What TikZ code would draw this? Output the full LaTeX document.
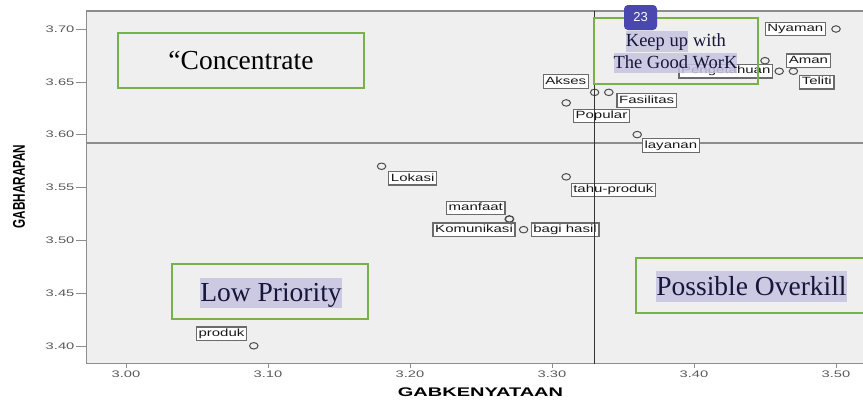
\documentclass[tikz,border=0pt]{standalone}
\usepackage{fontspec}
\setmainfont{Liberation Serif}
\setsansfont{Liberation Sans}
\usetikzlibrary{positioning,shapes.geometric}
\tikzset{% default arrow tips
    >=latex
}
\definecolor{plotbg}{HTML}{EFEFEF}
\definecolor{framegray}{HTML}{8C8C8C}
\definecolor{tickgray}{HTML}{5A5A5A}
\definecolor{boxgreen}{HTML}{78B04A}
\definecolor{hilite}{HTML}{C6C4E2}
\definecolor{badgeblue}{HTML}{4A47AE}
\definecolor{inkblue}{HTML}{16163A}
\tikzset{
    site/.style={ellipse, draw=black!70, line width=1pt, minimum width=8.5pt, minimum height=6.5pt, inner sep=0pt},
    namebox/.style={draw=black!58, line width=1.2pt, fill=white, inner xsep=1.5pt, inner ysep=2pt, text height=7.5pt, text depth=2pt, xscale=1.43, text=black!90, font=\sffamily\fontsize{10.5}{12}\selectfont},
    ticklbl/.style={text=tickgray, inner sep=1pt, xscale=1.55, font=\sffamily\fontsize{9.5}{11}\selectfont},
    axtitle/.style={inner sep=0pt, font=\sffamily\bfseries\fontsize{12.5}{14}\selectfont},
    quadbox/.style={draw=boxgreen, line width=1.6pt},
    bigfont/.style={font=\fontsize{27.5}{31}\selectfont, text height=23pt, text depth=5.5pt},
    keepfont/.style={font=\fontsize{18.5}{21}\selectfont, text height=14.5pt, text depth=4pt},
    hl/.style={fill=hilite, fill opacity=0.85, text opacity=1, text=inkblue, inner xsep=0pt, inner ysep=1pt},
    badge/.style={fill=badgeblue, rounded corners=4pt, text=white, minimum width=33pt, minimum height=25pt, inner sep=0pt, font=\sffamily\fontsize{13}{15}\selectfont}
}

\begin{document}
\begin{tikzpicture}[x=1pt,y=-1pt]
    \newcommand{\xlo}{2.972}
    \newcommand{\xhi}{3.53}
    \newcommand{\ylo}{3.383}
    \newcommand{\yhi}{3.717}
    \newcommand{\xcut}{3.33}
    \newcommand{\ycut}{3.592}

    \useasboundingbox (0,0) rectangle (863,400);

    % scatter, in data units
    \begin{scope}[shift={(-4134,3936.2)}, x=1420pt, y=1056pt]
        % panel
        \fill[plotbg] (\xlo,\ylo) rectangle (\xhi,\yhi);
        \draw[framegray, line width=1.4pt] (\xhi,\yhi) -- (\xlo,\yhi) -- (\xlo,\ylo) -- (\xhi,\ylo);

        % y ticks
        \draw[framegray] (\xlo,3.70) -- ++(-10pt,0) node[left, ticklbl] {3.70};
        \draw[framegray] (\xlo,3.65) -- ++(-10pt,0) node[left, ticklbl] {3.65};
        \draw[framegray] (\xlo,3.60) -- ++(-10pt,0) node[left, ticklbl] {3.60};
        \draw[framegray] (\xlo,3.55) -- ++(-10pt,0) node[left, ticklbl] {3.55};
        \draw[framegray] (\xlo,3.50) -- ++(-10pt,0) node[left, ticklbl] {3.50};
        \draw[framegray] (\xlo,3.45) -- ++(-10pt,0) node[left, ticklbl] {3.45};
        \draw[framegray] (\xlo,3.40) -- ++(-10pt,0) node[left, ticklbl] {3.40};

        % x ticks
        \draw[framegray] (3.00,\ylo) -- ++(0,-4pt) node[below=1.5pt, ticklbl] {3.00};
        \draw[framegray] (3.10,\ylo) -- ++(0,-4pt) node[below=1.5pt, ticklbl] {3.10};
        \draw[framegray] (3.20,\ylo) -- ++(0,-4pt) node[below=1.5pt, ticklbl] {3.20};
        \draw[framegray] (3.30,\ylo) -- ++(0,-4pt) node[below=1.5pt, ticklbl] {3.30};
        \draw[framegray] (3.40,\ylo) -- ++(0,-4pt) node[below=1.5pt, ticklbl] {3.40};
        \draw[framegray] (3.50,\ylo) -- ++(0,-4pt) node[below=1.5pt, ticklbl] {3.50};

        % mean line (horizontal)
        \draw[framegray, line width=1.2pt] (\xlo,\ycut) -- (\xhi,\ycut);

        % sites
        \node[site] (pnyaman) at (3.50,3.70) {};
        \node[site] (paman) at (3.45,3.67) {};
        \node[site] (ppeng) at (3.46,3.66) {};
        \node[site] (pteliti) at (3.47,3.66) {};
        \node[site] (pakses) at (3.33,3.64) {};
        \node[site] (pfasil) at (3.34,3.64) {};
        \node[site] (ppopular) at (3.31,3.63) {};
        \node[site] (playanan) at (3.36,3.60) {};
        \node[site] (plokasi) at (3.18,3.57) {};
        \node[site] (ptahu) at (3.31,3.56) {};
        \node[site, line width=1.4pt] (pmanfaat) at (3.27,3.52) {};
        \node[site] (pbagi) at (3.28,3.51) {};
        \node[site] (pproduk) at (3.09,3.40) {};

        % names
        \node[namebox, left=5pt of pnyaman] (nyaman) {Nyaman};
        \node[namebox, right=16pt of paman] (aman) {Aman};
        \node[namebox, left=1pt of ppeng] (peng) {Pengetahuan};
        \node[namebox, below right=1pt and 2pt of pteliti] (teliti) {Teliti};
        \node[namebox, above left=1pt and 2pt of pakses] (akses) {Akses};
        \node[namebox, below right=-2pt and 4pt of pfasil] (fasil) {Fasilitas};
        \node[namebox, below right=3pt and 3pt of ppopular] (popular) {Popular};
        \node[namebox, below right=1pt and 1pt of playanan] (layanan) {layanan};
        \node[namebox, below right=2pt and 3pt of plokasi] (lokasi) {Lokasi};
        \node[namebox, below=2pt of ptahu, xshift=33pt] (tahu) {tahu-produk};
        \node[namebox, above left=1pt and 0pt of pmanfaat] (manfaat) {manfaat};
        \node[namebox, left=3pt of pbagi] (komunikasi) {Komunikasi};
        \node[namebox, right=2pt of pbagi] (bagi) {bagi hasil};
        \node[namebox, above left=2pt and 3pt of pproduk] (produk) {produk};

        % mean line (vertical)
        \draw[black!80, line width=1.2pt] (\xcut,\ylo) -- (\xcut,\yhi);
    \end{scope}

    % axis titles
    \node[axtitle, xscale=1.6] (xtitle) at (480.5,392.5) {GABKENYATAAN};
    \node[axtitle, font=\sffamily\bfseries\fontsize{17}{19}\selectfont, rotate=90, xscale=0.69] (ytitle) at (19,186.5) {GABHARAPAN};

    % quadrants
    \node[quadbox, minimum width=246pt, minimum height=55pt, font=\fontsize{27.5}{31}\selectfont] (concentrate) at (241,60.5) {“Concentrate};

    \node[quadbox, minimum width=164pt, minimum height=66pt] (keepbox) at (676,51) {};
    \node[hl, keepfont] (keepa) at (657,41.5) {Keep up};
    \node[keepfont, text=inkblue, inner xsep=0pt, inner ysep=1pt, right=4.6pt of keepa] (keepb) {with};
    \node[hl, keepfont] (goodwork) at (675.5,63) {The Good WorK};
    \node[badge] (badge) at (640.5,17.5) {23};

    \node[quadbox, minimum width=196pt, minimum height=55pt] (lowbox) at (270,291.5) {};
    \node[hl, bigfont] (lowtxt) at (271,293) {Low Priority};

    \node[quadbox, minimum width=250pt, minimum height=55pt] (overbox) at (761,285.5) {};
    \node[hl, bigfont] (overtxt) at (751.5,286.5) {Possible Overkill};
\end{tikzpicture}
\end{document}
